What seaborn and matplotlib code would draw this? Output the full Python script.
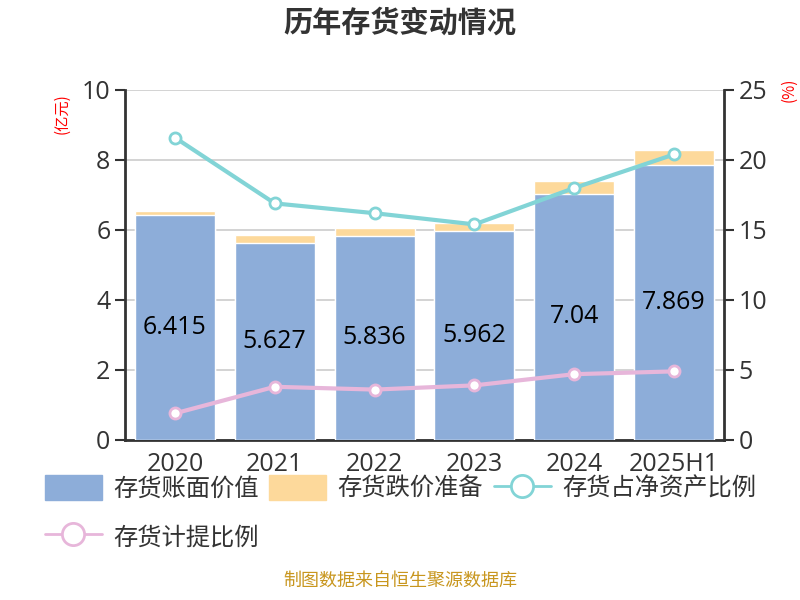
import numpy as np
import pandas as pd
import seaborn as sns
import matplotlib
matplotlib.use("Agg")
import matplotlib.pyplot as plt
from matplotlib.patches import Patch
from matplotlib.lines import Line2D

# --- data ---
years = ["2020", "2021", "2022", "2023", "2024", "2025H1"]
book_value = [6.415, 5.627, 5.836, 5.962, 7.04, 7.869]        # 亿元
impairment = [0.13, 0.23, 0.22, 0.24, 0.36, 0.42]             # 亿元
net_asset_ratio = [21.6, 16.9, 16.2, 15.4, 18.0, 20.4]        # %
provision_ratio = [1.9, 3.8, 3.6, 3.9, 4.7, 4.9]              # %

BLUE = "#8DADD9"
ORANGE = "#FDD99B"
CYAN = "#82D4D6"
PINK = "#E7B6DA"
DARK = "#333333"
NUM_FONT = ["Open Sans", "Noto Sans CJK SC", "DejaVu Sans"]

sns.set_theme(style="white")
plt.rcParams["font.family"] = ["Noto Sans CJK SC", "DejaVu Sans"]

df = pd.DataFrame({
    "year": years,
    "book": book_value,
    "total": np.array(book_value) + np.array(impairment),
    "ratio1": net_asset_ratio,
    "ratio2": provision_ratio,
})

fig = plt.figure(figsize=(8, 6), dpi=100)
ax = fig.add_axes([0.15625, 0.2667, 0.74875, 0.5833])

# stacked bars: total (orange) behind, book value (blue) in front
sns.barplot(data=df, x="year", y="total", color=ORANGE, width=0.8,
            saturation=1, ax=ax, zorder=2)
sns.barplot(data=df, x="year", y="book", color=BLUE, width=0.8,
            saturation=1, ax=ax, zorder=3)
for i, v in enumerate(book_value):
    ax.text(i, v / 2, f"{v:g}", ha="center", va="center", fontsize=18,
            color="black", zorder=5, family=NUM_FONT)

ax.set_ylim(0, 10)
ax.set_yticks([0, 2, 4, 6, 8, 10])
ax.set_xlim(-0.5, 5.5)
ax.set_xlabel("")
ax.set_ylabel("")
ax.yaxis.grid(True, color="#CCCCCC", linewidth=1.2, zorder=0)
ax.set_axisbelow(True)

# x ticks: labels at centres, tick marks at boundaries
ax.set_xticks(range(len(years)))
ax.set_xticklabels(years, family=NUM_FONT)
ax.set_xticks(np.arange(-0.5, 6.0, 1.0), minor=True)
ax.tick_params(axis="x", which="major", length=0, labelsize=18,
               labelcolor=DARK, pad=9)
ax.tick_params(axis="x", which="minor", length=7, width=1.5, color=DARK)
ax.tick_params(axis="y", length=7, width=1.5, color=DARK, labelsize=18,
               labelcolor=DARK, left=True)
for lab in ax.get_yticklabels():
    lab.set_family(NUM_FONT)

for s in ["left", "bottom"]:
    ax.spines[s].set_color(DARK)
    ax.spines[s].set_linewidth(2)
ax.spines["top"].set_visible(False)
ax.spines["right"].set_visible(False)

# right axis with the two ratio lines
ax2 = ax.twinx()
sns.lineplot(data=df, x="year", y="ratio1", color=CYAN, linewidth=3,
             marker="o", markersize=8, markerfacecolor="white",
             markeredgecolor=CYAN, markeredgewidth=2, sort=False, ax=ax2,
             zorder=4)
sns.lineplot(data=df, x="year", y="ratio2", color=PINK, linewidth=3,
             marker="o", markersize=8, markerfacecolor="white",
             markeredgecolor=PINK, markeredgewidth=2, sort=False, ax=ax2,
             zorder=4)
ax2.set_ylim(0, 25)
ax2.set_yticks([0, 5, 10, 15, 20, 25])
ax2.set_xlim(-0.5, 5.5)
ax2.set_xlabel("")
ax2.set_ylabel("")
ax2.grid(False)
ax2.tick_params(axis="y", length=7, width=1.5, color=DARK, labelsize=18,
                labelcolor=DARK, right=True)
for lab in ax2.get_yticklabels():
    lab.set_family(NUM_FONT)
for s in ["left", "top", "bottom"]:
    ax2.spines[s].set_visible(False)
ax2.spines["right"].set_color(DARK)
ax2.spines["right"].set_linewidth(2)

# unit labels
fig.text(0.078, 0.81, "(亿元)", rotation=90, color="red", fontsize=11,
         ha="center", va="center")
fig.text(0.986, 0.85, "(%)", rotation=90, color="red", fontsize=11,
         ha="center", va="center")

# title
fig.text(0.5, 0.962, "历年存货变动情况", ha="center", va="center",
         fontsize=21, fontweight="bold", color=DARK)

# legend (order arranged so that ncol=3 fills row by row)
h_book = Patch(facecolor=BLUE, edgecolor=BLUE, label="存货账面价值")
h_imp = Patch(facecolor=ORANGE, edgecolor=ORANGE, label="存货跌价准备")
h_r1 = Line2D([0], [0], color=CYAN, linewidth=2, marker="o", markersize=16,
              markerfacecolor="white", markeredgecolor=CYAN,
              markeredgewidth=2, label="存货占净资产比例")
h_r2 = Line2D([0], [0], color=PINK, linewidth=2, marker="o", markersize=16,
              markerfacecolor="white", markeredgecolor=PINK,
              markeredgewidth=2, label="存货计提比例")
fig.legend(handles=[h_book, h_r2, h_imp, h_r1], loc="upper left",
           bbox_to_anchor=(0.056, 0.208), ncol=3, frameon=False,
           fontsize=17.5, handlelength=2.35, handleheight=1.2,
           handletextpad=0.45, columnspacing=0.45, labelspacing=0.9,
           borderaxespad=0, borderpad=0, labelcolor=DARK)

# source note
fig.text(0.5, 0.017, "制图数据来自恒生聚源数据库", ha="center", va="bottom",
         fontsize=13, color="#C8961E")

fig.savefig("out.png", dpi=100)
